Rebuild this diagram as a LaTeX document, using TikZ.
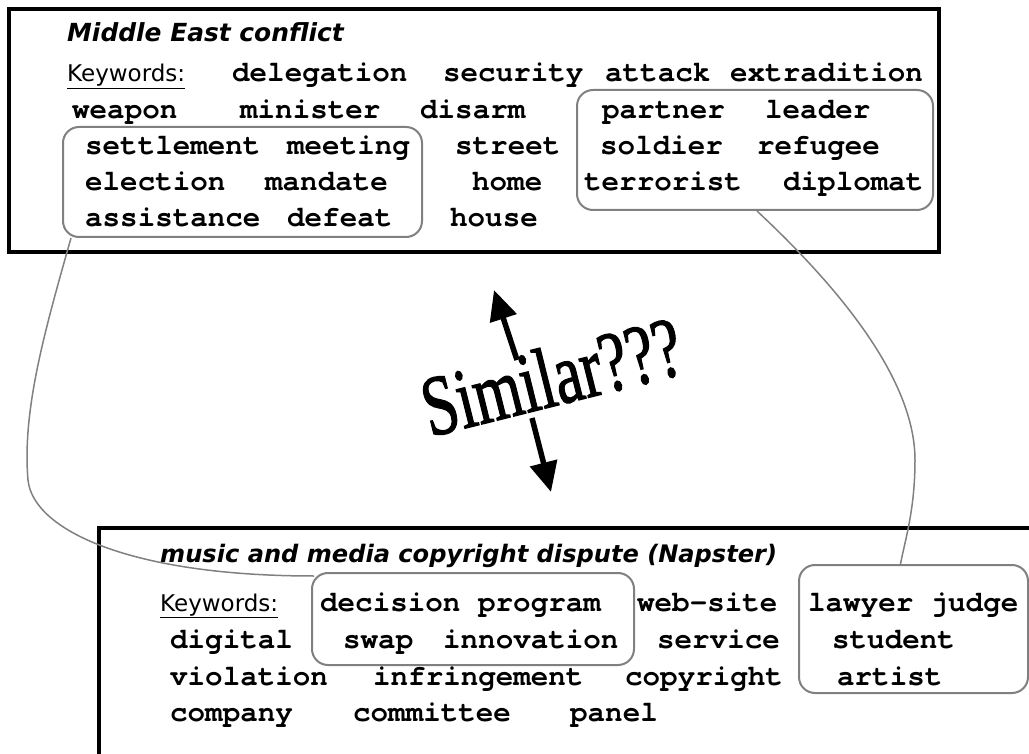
\documentclass[tikz,border=0pt]{standalone}
\usepackage{fontspec}
\newfontfamily\wordfont{texgyrecursor}[Extension=.otf, UprightFont=*-regular, BoldFont=*-bold]
\newfontfamily\headfont{DejaVu Sans}[BoldItalicFont={DejaVu Sans Bold Oblique}]
\newfontfamily\simfont{Liberation Serif}[FakeBold=1.6]
\usetikzlibrary{arrows.meta}

\begin{document}
\begin{tikzpicture}[
    x=1pt, y=-1pt,
    word/.style={anchor=base west, inner sep=0pt, font=\wordfont\bfseries\fontsize{29.2}{30}\selectfont},
    topic/.style={anchor=base west, inner sep=0pt, font=\headfont\bfseries\itshape\fontsize{24.9}{26}\selectfont},
    keyw/.style={anchor=base west, inner sep=0pt, font=\headfont\fontsize{23}{24}\selectfont},
    frame/.style={rectangle, draw, line width=3.5pt, inner sep=0pt},
    group/.style={rectangle, draw=gray, line width=2pt, rounded corners=16pt, inner sep=0pt},
    link/.style={draw=gray, line width=1.5pt},
    bigarrow/.style={line width=5.5pt, -{Triangle[length=30pt,width=27pt]}}
]
\clip (0,0) rectangle (1029,754);

% Topic frames
\node[frame, minimum width=930pt, minimum height=243pt] (mideast) at (474,130.5) {};
\node[frame, minimum width=941pt, minimum height=242pt] (napster) at (569.5,649) {};

% Keyword groups
\node[group, minimum width=359pt, minimum height=110pt] (grpA) at (242.5,182) {};
\node[group, minimum width=356pt, minimum height=120pt] (grpB) at (755,150) {};
\node[group, minimum width=322pt, minimum height=92pt] (grpC) at (473,619) {};
\node[group, minimum width=229pt, minimum height=128pt] (grpD) at (913.5,629) {};

% Middle East conflict
\node[topic] (titletop) at (67,42) {Middle East conflict};
\node[keyw] (kwtop) at (67,82) {\underline{Keywords:}};
\node[word] (delegation) at (232,82) {delegation};
\node[word] (security) at (443,82) {security};
\node[word] (attack) at (605,82) {attack};
\node[word] (extradition) at (730,82) {extradition};
\node[word] (weapon) at (72,119) {weapon};
\node[word] (minister) at (240,119) {minister};
\node[word] (disarm) at (420,119) {disarm};
\node[word] (partner) at (602,119) {partner};
\node[word] (leader) at (765,119) {leader};
\node[word] (settlement) at (85,155) {settlement};
\node[word] (meeting) at (287,155) {meeting};
\node[word] (street) at (455,155) {street};
\node[word] (soldier) at (600,155) {soldier};
\node[word] (refugee) at (757,155) {refugee};
\node[word] (election) at (85,191) {election};
\node[word] (mandate) at (265,191) {mandate};
\node[word] (home) at (472,191) {home};
\node[word] (terrorist) at (584,191) {terrorist};
\node[word] (diplomat) at (783,191) {diplomat};
\node[word] (assistance) at (85,227) {assistance};
\node[word] (defeat) at (287,227) {defeat};
\node[word] (house) at (450,227) {house};

% Napster dispute
\node[topic, font=\headfont\bfseries\itshape\fontsize{24.1}{26}\selectfont] (titlebot) at (160,562) {music and media copyright dispute (Napster)};
\node[keyw] (kwbot) at (160,611) {\underline{Keywords:}};
\node[word] (decision) at (320,611) {decision};
\node[word] (program) at (478,611) {program};
\node[word] (website) at (637,611) {web-site};
\node[word] (lawyer) at (808,611) {lawyer};
\node[word] (judge) at (930.5,611) {judge};
\node[word] (digital) at (170,648) {digital};
\node[word] (swap) at (343,648) {swap};
\node[word] (innovation) at (443,648) {innovation};
\node[word] (service) at (657,648) {service};
\node[word] (student) at (832,648) {student};
\node[word] (violation) at (170,685) {violation};
\node[word] (infringement) at (373,685) {infringement};
\node[word] (copyright) at (625,685) {copyright};
\node[word] (artist) at (837,685) {artist};
\node[word] (company) at (170,721) {company};
\node[word] (committee) at (353,721) {committee};
\node[word] (panel) at (570,721) {panel};

% Similar???
\node[anchor=base west, inner sep=0pt, rotate=14, font=\simfont\fontsize{86}{90}\selectfont] (similar) at (430,437) {\scalebox{0.72}[1]{Similar???}};
\coordinate (upfoot) at (517,360);
\coordinate (uptip) at (494,290);
\coordinate (downfoot) at (532,418);
\coordinate (downtip) at (551,492);
\draw[bigarrow] (upfoot) -- (uptip);
\draw[bigarrow] (downfoot) -- (downtip);

% Links between groups
\draw[link] ([xshift=9pt]grpA.south west) .. controls (45,330) and (22,410) .. (28,480)
    .. controls (33,530) and (130,576) .. ([xshift=3pt,yshift=-4pt]grpC.north west);
\draw[link] ([xshift=2pt]grpB.south) .. controls (820,270) and (915,370) .. (915,460)
    .. controls (915,510) and (905,540) .. ([xshift=-13pt]grpD.north);

\end{tikzpicture}
\end{document}
